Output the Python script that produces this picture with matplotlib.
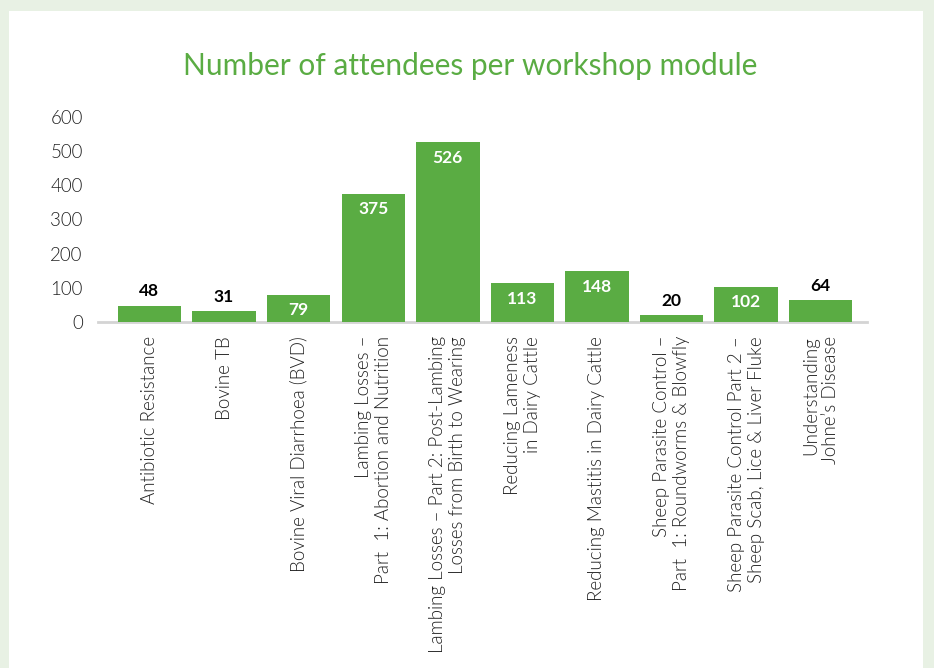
import matplotlib
matplotlib.use('Agg')
import matplotlib.pyplot as plt
from matplotlib.patches import Rectangle

# chart data
modules = [
    'Antibiotic Resistance',
    'Bovine TB',
    'Bovine Viral Diarrhoea (BVD)',
    'Lambing Losses –\nPart  1: Abortion and Nutrition',
    'Lambing Losses – Part 2: Post-Lambing\nLosses from Birth to Wearing',
    'Reducing Lameness\nin Dairy Cattle',
    'Reducing Mastitis in Dairy Cattle',
    'Sheep Parasite Control –\nPart  1: Roundworms & Blowfly',
    'Sheep Parasite Control Part 2 –\nSheep Scab, Lice & Liver Fluke',
    'Understanding\nJohne\u2019s Disease',
]
attendees = [48, 31, 79, 375, 526, 113, 148, 20, 102, 64]
y_ticks = [0, 100, 200, 300, 400, 500, 600]

GREEN = '#5aac43'
BORDER = '#e8f1e4'
TEXT = '#222222'

plt.rcParams['font.family'] = ['Lato', 'DejaVu Sans']

W, H = 934, 668
fig = plt.figure(figsize=(W / 100, H / 100), dpi=100)
fig.patch.set_facecolor(BORDER)
fig.patches.append(Rectangle((9 / W, 0), (923 - 9) / W, 1 - 11 / H,
                             transform=fig.transFigure, facecolor='white',
                             edgecolor='none', zorder=-5))

ax = fig.add_axes([98 / W, 1 - 322 / H, (867 - 98) / W, (322 - 117) / H])
ax.set_facecolor('none')

x = list(range(len(modules)))
ax.bar(x, attendees, width=0.85, color=GREEN, zorder=2)

ax.set_xlim(-0.69, 9.62)
ax.set_ylim(0, 600)
ax.set_yticks(y_ticks)
ax.set_yticklabels([str(v) for v in y_ticks], fontsize=13.5, color=TEXT,
                   fontweight=300)
ax.tick_params(axis='y', length=0, pad=11)
ax.tick_params(axis='x', length=0, pad=10)
ax.set_xticks(x)
ax.set_xticklabels(modules, rotation=90, fontsize=13.5, color=TEXT,
                   fontweight=300, ha='center', va='top',
                   multialignment='right', linespacing=1.2)

for s in ['top', 'right', 'left']:
    ax.spines[s].set_visible(False)
ax.spines['bottom'].set_color('#d4d4d4')
ax.spines['bottom'].set_linewidth(2)
ax.spines['bottom'].set_zorder(1)

# value labels: inside for tall bars, above for short ones
for xi, v in zip(x, attendees):
    if v >= 70:
        ax.annotate(str(v), (xi, v), xytext=(0, -11), textcoords='offset points',
                    ha='center', va='center', color='white',
                    fontsize=12.5, fontweight='bold', zorder=3)
    else:
        ax.annotate(str(v), (xi, v), xytext=(0, 10.5), textcoords='offset points',
                    ha='center', va='center', color='black',
                    fontsize=12.5, fontweight='bold', zorder=3)

fig.text(470 / W, 1 - 66 / H, 'Number of attendees per workshop module',
         ha='center', va='center', color=GREEN, fontsize=21.5)

fig.savefig('out.png', dpi=100, facecolor=fig.get_facecolor())
